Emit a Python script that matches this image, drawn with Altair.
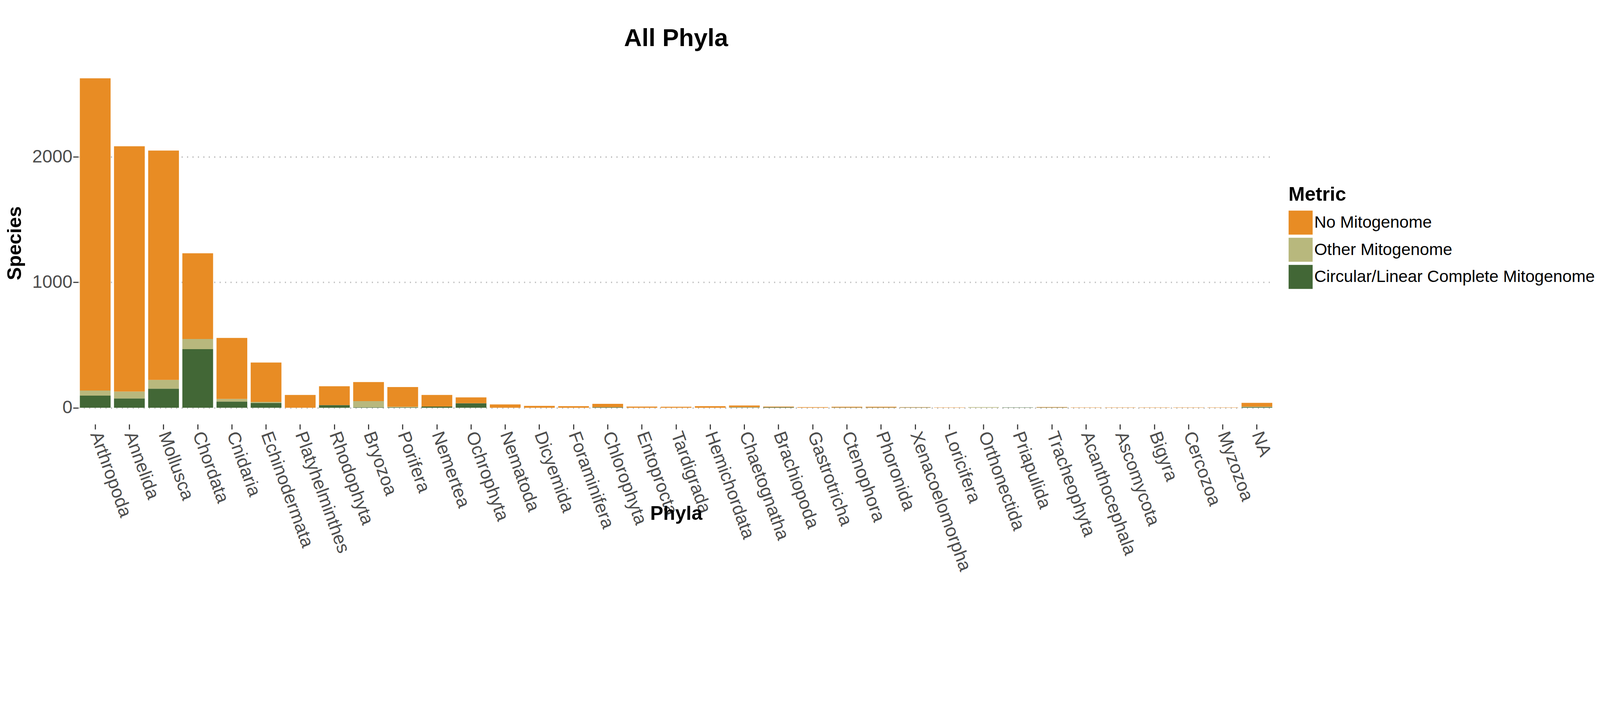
import pandas as pd
import altair as alt

phyla = ["Arthropoda", "Annelida", "Mollusca", "Chordata", "Cnidaria", "Echinodermata",
         "Platyhelminthes", "Rhodophyta", "Bryozoa", "Porifera", "Nemertea", "Ochrophyta",
         "Nematoda", "Dicyemida", "Foraminifera", "Chlorophyta", "Entoprocta", "Tardigrada",
         "Hemichordata", "Chaetognatha", "Brachiopoda", "Gastrotricha", "Ctenophora",
         "Phoronida", "Xenacoelomorpha", "Loricifera", "Orthonectida", "Priapulida",
         "Tracheophyta", "Acanthocephala", "Ascomycota", "Bigyra", "Cercozoa", "Myzozoa", "NA"]
# stacked tops
total = [2624, 2083, 2049, 1231, 556, 360, 102, 171, 205, 165, 102, 83,
         27, 15, 13, 31, 10, 8, 13, 18, 10, 5, 8, 8, 5, 3, 5, 3, 6, 3, 3, 3, 3, 3, 39]
other_top = [137, 129, 222, 548, 70, 47, 0, 21, 53, 8, 10, 36,
             0, 0, 0, 5, 0, 0, 0, 5, 5, 0, 3, 3, 3, 0, 5, 3, 3, 0, 0, 0, 0, 0, 9]
circular = [97, 74, 152, 467, 49, 38, 0, 21, 4, 4, 10, 36,
            0, 0, 0, 5, 0, 0, 0, 3, 5, 0, 3, 3, 3, 0, 0, 3, 3, 0, 0, 0, 0, 0, 6]

metrics = ["No Mitogenome", "Other Mitogenome", "Circular/Linear Complete Mitogenome"]
colors = ["#E88C24", "#B8B87D", "#426736"]

rows = []
for p, t, o, c in zip(phyla, total, other_top, circular):
    rows.append({"Phyla": p, "Metric": metrics[2], "Species": c, "ord": 0})
    rows.append({"Phyla": p, "Metric": metrics[1], "Species": max(o - c, 0), "ord": 1})
    rows.append({"Phyla": p, "Metric": metrics[0], "Species": max(t - max(o, c), 0), "ord": 2})
df = pd.DataFrame(rows)

font = "Liberation Sans"

chart = (
    alt.Chart(df)
    .mark_bar()
    .encode(
        x=alt.X("Phyla:N", sort=phyla, title="Phyla",
                scale=alt.Scale(paddingInner=0.1, paddingOuter=0.05),
                axis=alt.Axis(labelAngle=70, labelAlign="left", labelBaseline="middle",
                              labelFontSize=50, labelColor="#4D4D4D", labelPadding=8,
                              labelLimit=1000,
                              tickSize=14, tickWidth=3, tickColor="#333333",
                              titleFontSize=54, titleFontWeight="bold", titlePadding=20,
                              domain=False, grid=False)),
        y=alt.Y("Species:Q", stack="zero", title="Species",
                scale=alt.Scale(domain=[-131, 2755], nice=False, zero=False),
                axis=alt.Axis(values=[0, 1000, 2000], format="d", labelFontSize=50,
                              labelColor="#4D4D4D",
                              tickSize=14, tickWidth=3, tickColor="#333333",
                              titleFontSize=54, titleFontWeight="bold", titlePadding=20,
                              domain=False, grid=True, gridDash=[3, 12], gridWidth=4,
                              gridColor="#BBBBBB")),
        color=alt.Color("Metric:N", sort=metrics,
                        scale=alt.Scale(domain=metrics, range=colors),
                        legend=alt.Legend(title="Metric", titleFontSize=54, titleFontWeight="bold",
                                          labelFontSize=46, symbolType="square", symbolSize=4400,
                                          symbolStrokeWidth=0, titlePadding=16, rowPadding=8,
                                          orient="none", legendX=3340, legendY=340,
                                          labelLimit=1200)),
        order=alt.Order("ord:Q"),
    )
    .properties(width=3300, height=1000,
                title=alt.TitleParams("All Phyla", fontSize=68, fontWeight="bold", anchor="middle", offset=30))
    .configure(font=font)
    .configure_view(stroke=None)
)

chart.save("out.html", embed_options={"renderer": "svg", "actions": False})
